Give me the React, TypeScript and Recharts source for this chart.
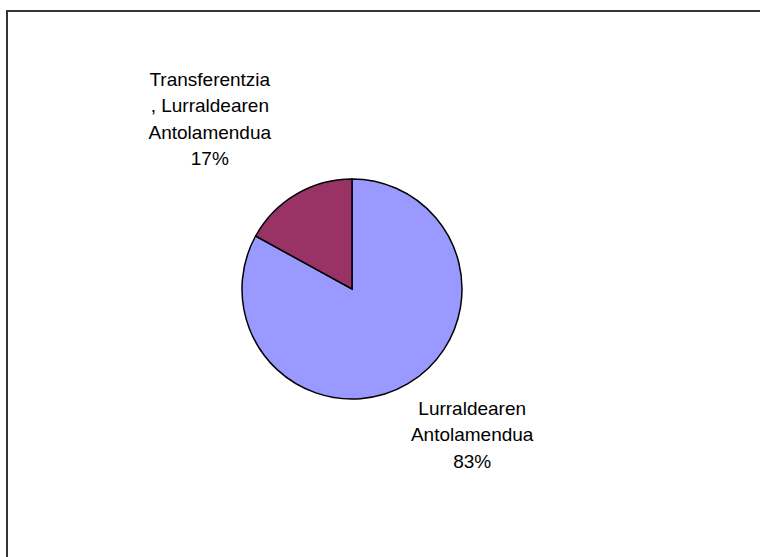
import { PieChart, Pie, Cell } from 'recharts';

const categories = ['Lurraldearen Antolamendua', 'Transferentzia, Lurraldearen Antolamendua'];
const shares = [83, 17];
const labelLines = [
  ['Lurraldearen', 'Antolamendua'],
  ['Transferentzia', ', Lurraldearen', 'Antolamendua'],
];
const sliceColors = ['#9999FF', '#993366'];

const data = categories.map((name, i) => ({ name, value: shares[i] }));

const RADIAN = Math.PI / 180;
const FONT = '"Liberation Sans", Arial, sans-serif';
const LINE_H = 26.5;

function renderLabel(props: any) {
  const { cx, cy, midAngle, outerRadius, index, value } = props;
  const r = outerRadius + 22;
  const cos = Math.cos(-midAngle * RADIAN);
  const sin = Math.sin(-midAngle * RADIAN);
  const px = cx + r * cos;
  const py = cy + r * sin;
  const lines = [...labelLines[index], `${value}%`];
  const x = cos < 0 ? px - 75 : px + 53;
  const firstBaseline = sin < 0 ? py - 10 - (lines.length - 1) * LINE_H : py + 12;
  return (
    <text x={x} y={firstBaseline} textAnchor="middle" fill="#000" fontFamily={FONT} fontSize={19}>
      {lines.map((l, i) => (
        <tspan key={i} x={x} y={firstBaseline + i * LINE_H}>
          {l}
        </tspan>
      ))}
    </text>
  );
}

export default function App() {
  return (
    <div
      style={{
        position: 'fixed',
        left: 0,
        top: 0,
        width: 760,
        height: 557,
        overflow: 'hidden',
        background: '#fff',
      }}
    >
      <div
        style={{
          position: 'absolute',
          left: 6,
          top: 10,
          width: 780,
          height: 580,
          borderTop: '2px solid #333',
          borderLeft: '2px solid #333',
        }}
      />
      <div style={{ position: 'absolute', left: 0, top: 0 }}>
        <PieChart width={760} height={557} margin={{ top: 0, right: 0, bottom: 0, left: 0 }}>
          <Pie
            data={data}
            dataKey="value"
            nameKey="name"
            cx={352}
            cy={289}
            outerRadius={110}
            startAngle={90}
            endAngle={-270}
            stroke="#000"
            strokeWidth={1.5}
            label={renderLabel}
            labelLine={false}
            isAnimationActive={false}
          >
            {data.map((d, i) => (
              <Cell key={d.name} fill={sliceColors[i]} />
            ))}
          </Pie>
        </PieChart>
      </div>
    </div>
  );
}
